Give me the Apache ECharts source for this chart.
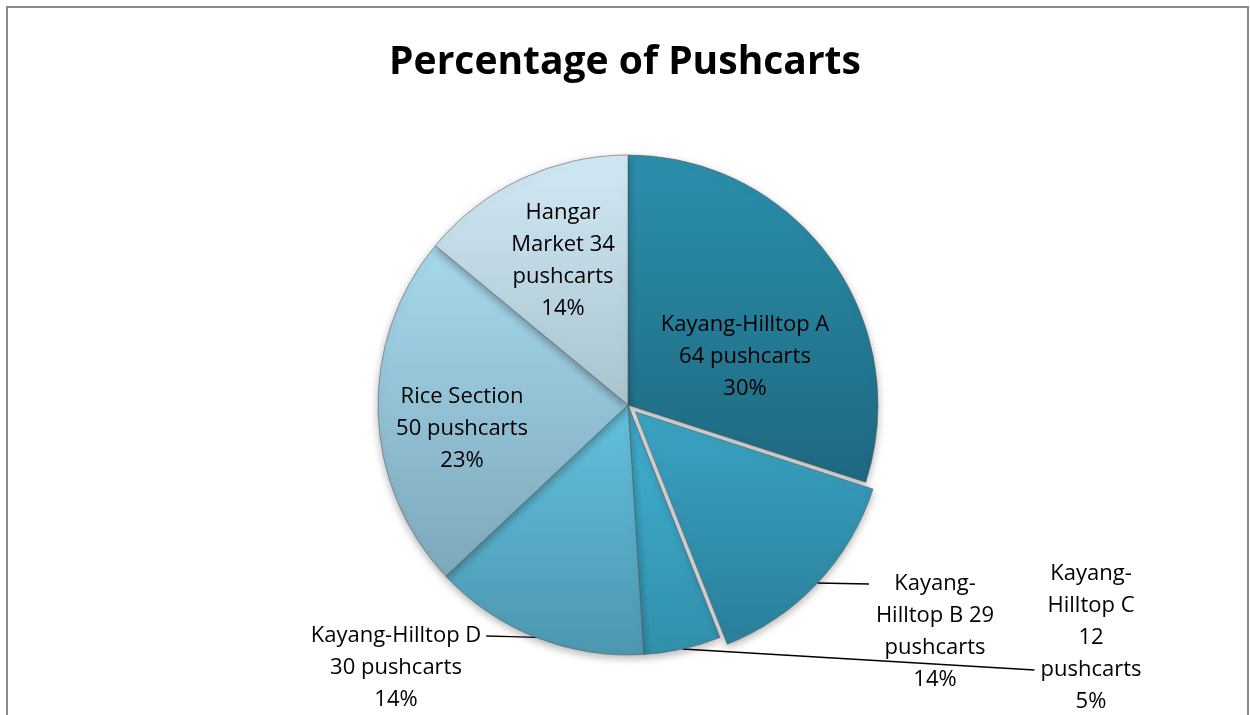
<!DOCTYPE html>
<html>
<head>
<meta charset="utf-8">
<script src="https://cdn.jsdelivr.net/npm/echarts@6/dist/echarts.min.js"></script>
<style>
html,body{margin:0;padding:0;background:#fff;}
#chart{width:1250px;height:715px;}
</style>
</head>
<body>
<div id="chart"></div>
<script>
// ---- data ----
const titleText = 'Percentage of Pushcarts';
const categories = ['Kayang-Hilltop A', 'Kayang-Hilltop B', 'Kayang-Hilltop C', 'Kayang-Hilltop D', 'Rice Section', 'Hangar Market'];
const pushcarts = [64, 29, 12, 30, 50, 34];
const percents = [30, 14, 5, 14, 23, 14];
const explodedIndex = 1;
// label text layouts ({c} count, {p} percent)
const labelTemplates = [
  'Kayang-Hilltop A\n{c} pushcarts\n{p}%',
  'Kayang-\nHilltop B {c}\npushcarts\n{p}%',
  'Kayang-\nHilltop C\n{c}\npushcarts\n{p}%',
  'Kayang-Hilltop D\n{c} pushcarts\n{p}%',
  'Rice Section\n{c} pushcarts\n{p}%',
  'Hangar\nMarket {c}\npushcarts\n{p}%'
];

// ---- styles / layout ----
const CENTER = [628, 405];
const RADIUS = 250;
const EXPLODE = 10;
const LINE_H = 32;
const grads = [
  ['#2b90ac', '#1e6880'],
  ['#3aa4c4', '#2a7f9a'],
  ['#40b0d0', '#3190ac'],
  ['#63c1dd', '#4c96b0'],
  ['#a6d8ec', '#7ea8bb'],
  ['#d0e9f4', '#a9c3cf']
];
// label block centres
const labelPos = {
  0: {x: 745, y: 357},
  1: {x: 935, y: 632},
  2: {x: 1091, y: 638},
  3: {x: 396, y: 668},
  4: {x: 462, y: 429},
  5: {x: 563, y: 261}
};
// leader line attachment: side of label block, line index, gap
const leader = {
  1: {side: 'left', line: 0, gap: 7},
  2: {side: 'left', line: 3, gap: 6},
  3: {side: 'right', line: 0, gap: 5}
};

// exploded slice offset from data
const total = percents.reduce((a, b) => a + b, 0);
let before = 0;
for (let i = 0; i < explodedIndex; i++) before += percents[i];
const midAngle = (before + percents[explodedIndex] / 2) / total * 2 * Math.PI;
const offX = EXPLODE * Math.sin(midAngle);
const offY = -EXPLODE * Math.cos(midAngle);

function gradient(i) {
  return {
    type: 'linear', x: 0, y: 0, x2: 0, y2: 1,
    colorStops: [{offset: 0, color: grads[i][0]}, {offset: 1, color: grads[i][1]}]
  };
}

const chart = echarts.init(document.getElementById('chart'), null, {renderer: 'canvas'});

const baseData = categories.map((name, i) => ({
  name: name,
  value: percents[i],
  itemStyle: i === explodedIndex
    ? {color: 'rgba(0,0,0,0)', borderWidth: 0, shadowBlur: 0, shadowColor: 'rgba(0,0,0,0)'}
    : {color: gradient(i)},
  label: {position: leader[i] ? 'outside' : 'inside'},
  labelLine: {show: !!leader[i]}
}));

const explodedData = categories.map((name, i) => ({
  name: name,
  value: percents[i],
  itemStyle: i === explodedIndex
    ? {color: gradient(i)}
    : {color: 'rgba(0,0,0,0)', borderWidth: 0, shadowBlur: 0, shadowColor: 'rgba(0,0,0,0)'}
}));

const commonItemStyle = {
  borderColor: 'rgba(90,90,90,0.55)',
  borderWidth: 1,
  shadowBlur: 8,
  shadowOffsetY: 3,
  shadowColor: 'rgba(0,0,0,0.3)'
};

chart.setOption({
  animation: false,
  title: {
    text: titleText,
    left: 'center',
    top: 38,
    textStyle: {fontFamily: 'Open Sans', fontWeight: 'bold', fontSize: 39, color: '#000'}
  },
  graphic: [{
    type: 'rect',
    shape: {x: 7, y: 7, width: 1241, height: 730},
    style: {fill: 'none', stroke: '#8a8a8a', lineWidth: 2},
    silent: true
  }],
  series: [{
    type: 'pie',
    center: CENTER,
    radius: [0, RADIUS],
    startAngle: 90,
    clockwise: true,
    selectedMode: false,
    avoidLabelOverlap: false,
    data: baseData,
    itemStyle: commonItemStyle,
    label: {
      show: true,
      fontFamily: 'Open Sans',
      fontSize: 22,
      lineHeight: LINE_H,
      color: '#000',
      align: 'center',
      formatter: p => labelTemplates[p.dataIndex]
        .replace('{c}', pushcarts[p.dataIndex])
        .replace('{p}', percents[p.dataIndex])
    },
    labelLine: {
      show: true,
      length: 20,
      length2: 20,
      smooth: false,
      lineStyle: {color: '#000', width: 1.3}
    },
    labelLayout: function (params) {
      const i = params.dataIndex;
      const pos = labelPos[i];
      const res = {x: pos.x, y: pos.y, align: 'center', verticalAlign: 'middle'};
      const ld = leader[i];
      if (ld && params.labelLinePoints) {
        const a = params.labelLinePoints[0].slice();
        if (i === explodedIndex) { a[0] += offX; a[1] += offY; }
        const w = params.labelRect.width;
        const h = params.labelRect.height;
        const ex = ld.side === 'left' ? pos.x - w / 2 - ld.gap : pos.x + w / 2 + ld.gap;
        const ey = pos.y - h / 2 + LINE_H / 2 + ld.line * LINE_H;
        res.labelLinePoints = [a, [(a[0] + ex) / 2, (a[1] + ey) / 2], [ex, ey]];
      }
      return res;
    }
  }, {
    type: 'pie',
    silent: true,
    center: [CENTER[0] + offX, CENTER[1] + offY],
    radius: [0, RADIUS],
    startAngle: 90,
    clockwise: true,
    selectedMode: false,
    data: explodedData,
    itemStyle: commonItemStyle,
    label: {show: false},
    labelLine: {show: false}
  }]
});
</script>
</body>
</html>
